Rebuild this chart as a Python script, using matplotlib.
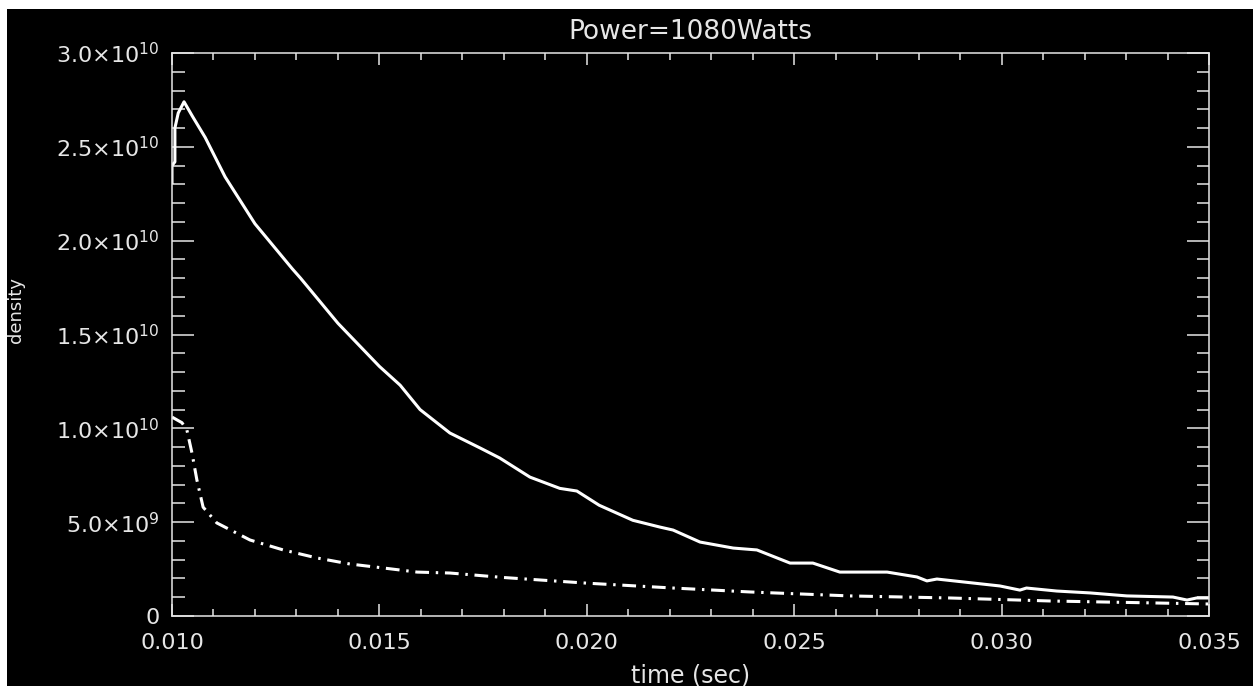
import matplotlib.pyplot as plt
from matplotlib.patches import Rectangle
from matplotlib.ticker import MultipleLocator, FixedLocator

# valores
t_total = [0.0100, 0.0100, 0.01007, 0.01007, 0.01015, 0.01029, 0.0105, 0.0108,
           0.01128, 0.0120, 0.0129, 0.0131, 0.0140, 0.0150, 0.0155, 0.01598,
           0.0167, 0.01743, 0.0179, 0.01863, 0.01935, 0.01976, 0.0203, 0.02111,
           0.02176, 0.02208, 0.02273, 0.02353, 0.0241, 0.0249, 0.02545, 0.0261,
           0.02724, 0.02796, 0.0282, 0.02844, 0.02955, 0.02996, 0.03044, 0.0306,
           0.03133, 0.03213, 0.03302, 0.03413, 0.03447, 0.0347, 0.0350]
n_total = [2.31e10, 2.40e10, 2.42e10, 2.60e10, 2.68e10, 2.74e10, 2.66e10, 2.55e10,
           2.34e10, 2.09e10, 1.85e10, 1.80e10, 1.56e10, 1.33e10, 1.23e10, 1.10e10,
           0.975e10, 0.895e10, 0.842e10, 0.74e10, 0.68e10, 0.666e10, 0.59e10, 0.51e10,
           0.474e10, 0.458e10, 0.394e10, 0.362e10, 0.352e10, 0.282e10, 0.282e10, 0.234e10,
           0.234e10, 0.208e10, 0.187e10, 0.197e10, 0.17e10, 0.16e10, 0.138e10, 0.149e10,
           0.133e10, 0.123e10, 0.107e10, 0.101e10, 0.085e10, 0.096e10, 0.096e10]

t_dd = [0.0100, 0.01024, 0.01036, 0.01048, 0.0106, 0.01075, 0.01108, 0.01188,
        0.01268, 0.0135, 0.01429, 0.01509, 0.01591, 0.0167, 0.0180, 0.0200,
        0.0220, 0.02394, 0.02634, 0.02876, 0.03117, 0.03237, 0.0350]
n_dd = [1.06e10, 1.03e10, 0.99e10, 0.87e10, 0.725e10, 0.58e10, 0.496e10, 0.405e10,
        0.352e10, 0.309e10, 0.277e10, 0.256e10, 0.234e10, 0.229e10, 0.205e10, 0.175e10,
        0.150e10, 0.128e10, 0.107e10, 0.096e10, 0.080e10, 0.075e10, 0.064e10]

x_ticks = [0.010, 0.015, 0.020, 0.025, 0.030, 0.035]
x_labels = ['0.010', '0.015', '0.020', '0.025', '0.030', '0.035']
y_ticks = [0, 5e9, 1e10, 1.5e10, 2e10, 2.5e10, 3e10]
y_labels = ['0', '5.0×10$^{9}$', '1.0×10$^{10}$', '1.5×10$^{10}$',
            '2.0×10$^{10}$', '2.5×10$^{10}$', '3.0×10$^{10}$']

plt.rcParams['mathtext.fontset'] = 'dejavusans'
fg = '#e6e6e6'

fig = plt.figure(figsize=(12.53, 6.86), dpi=100, facecolor='black')
# bordes blancos de la captura
fig.patches.append(Rectangle((0, 1 - 9 / 686), 1, 9 / 686, transform=fig.transFigure,
                             facecolor='white', edgecolor='none', zorder=0))
fig.patches.append(Rectangle((0, 0), 7 / 1253, 1, transform=fig.transFigure,
                             facecolor='white', edgecolor='none', zorder=0))

ax = fig.add_axes([172 / 1253, 1 - 616 / 686, 1037 / 1253, 563 / 686])
ax.set_facecolor('black')

ax.plot(t_total, n_total, color='white', lw=2.2)
ax.plot(t_dd, n_dd, color='white', lw=2.2, dashes=[4.5, 2.2, 0.8, 2.2])

ax.set_xlim(0.010, 0.035)
ax.set_ylim(0, 3e10)
ax.xaxis.set_major_locator(FixedLocator(x_ticks))
ax.set_xticklabels(x_labels)
ax.yaxis.set_major_locator(FixedLocator(y_ticks))
ax.set_yticklabels(y_labels)
ax.xaxis.set_minor_locator(MultipleLocator(0.001))
ax.yaxis.set_minor_locator(MultipleLocator(1e9))

for s in ax.spines.values():
    s.set_color(fg)
    s.set_linewidth(1.1)

ax.tick_params(axis='both', which='both', direction='in', colors=fg, width=1.1,
               top=True, right=True, labelsize=16)
ax.tick_params(axis='x', which='major', length=8.5, pad=12)
ax.tick_params(axis='x', which='minor', length=5)
ax.tick_params(axis='y', which='major', length=16, pad=9)
ax.tick_params(axis='y', which='minor', length=9)
for lab in ax.get_xticklabels() + ax.get_yticklabels():
    lab.set_color(fg)

ax.set_title('Power=1080Watts', color=fg, fontsize=19, pad=10)
ax.set_xlabel('time (sec)', color=fg, fontsize=17, labelpad=8)
fig.text(7 / 1253, 1 - 310 / 686, 'density', color=fg, fontsize=13,
         rotation=90, ha='left', va='center')

fig.savefig('out.png', dpi=100, facecolor='black')
